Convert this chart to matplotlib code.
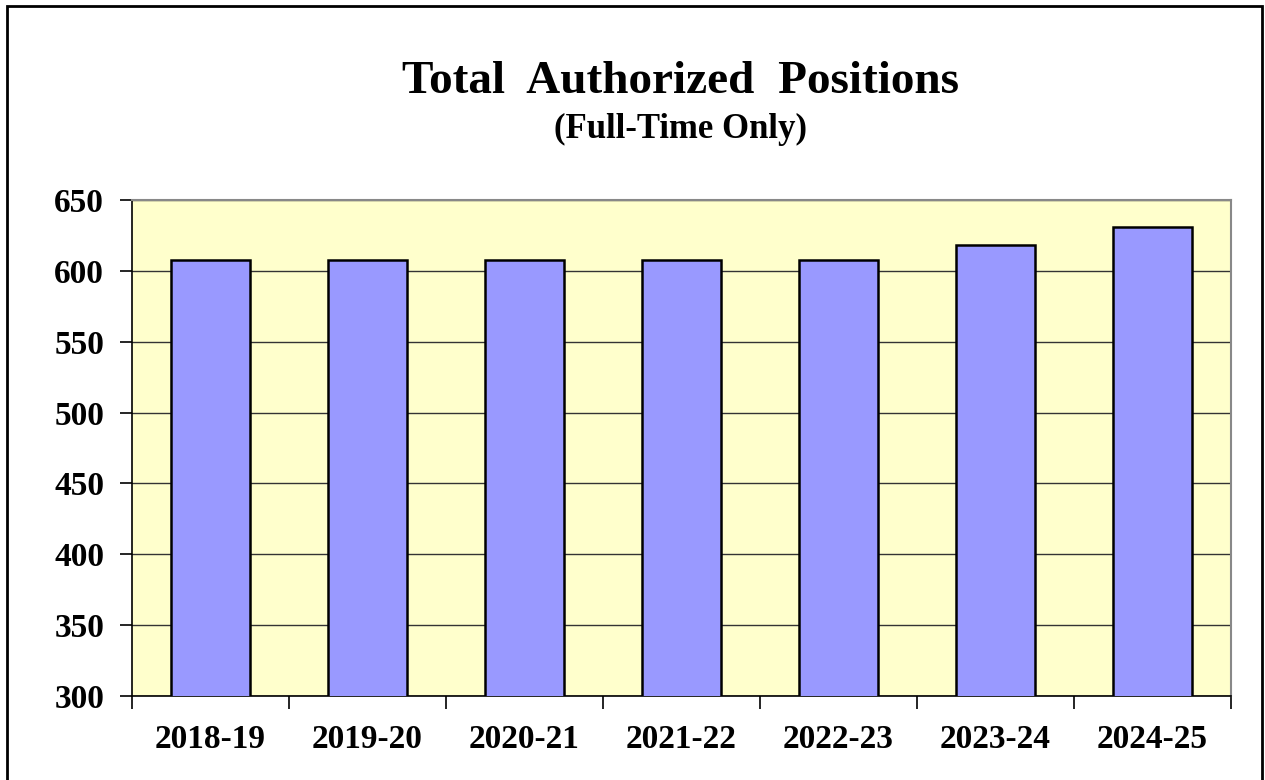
import matplotlib
matplotlib.use("Agg")
from matplotlib import pyplot as plt
from matplotlib.patches import Rectangle

years = ["2018-19", "2019-20", "2020-21", "2021-22", "2022-23", "2023-24", "2024-25"]
positions = [608, 608, 608, 608, 608, 618, 631]
y_ticks = [300, 350, 400, 450, 500, 550, 600, 650]

plt.rcParams['font.family'] = ['Liberation Serif', 'DejaVu Serif']
plt.rcParams['font.weight'] = 'bold'

fig = plt.figure(figsize=(12.65, 7.8), dpi=100)
ax = fig.add_axes([132 / 1265, 1 - 696 / 780, 1099 / 1265, 496 / 780])
ax.set_facecolor('#FFFFCC')

x = list(range(len(years)))
ax.bar(x, positions, width=0.5, color='#9999FF', edgecolor='black', linewidth=1.8, zorder=3)

ax.set_ylim(y_ticks[0], y_ticks[-1])
ax.set_xlim(-0.5, len(years) - 0.5)
ax.set_yticks(y_ticks)
ax.set_yticklabels([str(v) for v in y_ticks], fontsize=24, fontweight='bold')
ax.yaxis.grid(True, color='#333333', linewidth=1.0, zorder=1)

# category labels centred, ticks on the boundaries
ax.set_xticks(x)
ax.set_xticklabels(years, fontsize=24, fontweight='bold')
ax.tick_params(axis='x', which='major', length=0, pad=20)
ax.set_xticks([i - 0.5 for i in range(len(years) + 1)], minor=True)
ax.tick_params(axis='x', which='minor', length=9, width=1.2, direction='out')
ax.tick_params(axis='y', length=9, width=1.2, direction='out', pad=11)

for side in ['top', 'right']:
    ax.spines[side].set_color('#888888')
    ax.spines[side].set_linewidth(1.5)
for side in ['left', 'bottom']:
    ax.spines[side].set_color('black')
    ax.spines[side].set_linewidth(1.2)

title_x = 681 / 1265
fig.text(title_x, 1 - 82 / 780, "Total  Authorized  Positions", ha='center', va='center',
         fontsize=34, fontweight='bold')
fig.text(title_x, 1 - 129 / 780, "(Full-Time Only)", ha='center', va='center',
         fontsize=25, fontweight='bold')

# outer border (open at the bottom edge like the reference)
fig.patches.append(Rectangle((7 / 1265, -0.05), 1255 / 1265, 1.05 - 6 / 780,
                             transform=fig.transFigure, fill=False,
                             edgecolor='black', linewidth=2))

fig.savefig("out.png", dpi=100)
